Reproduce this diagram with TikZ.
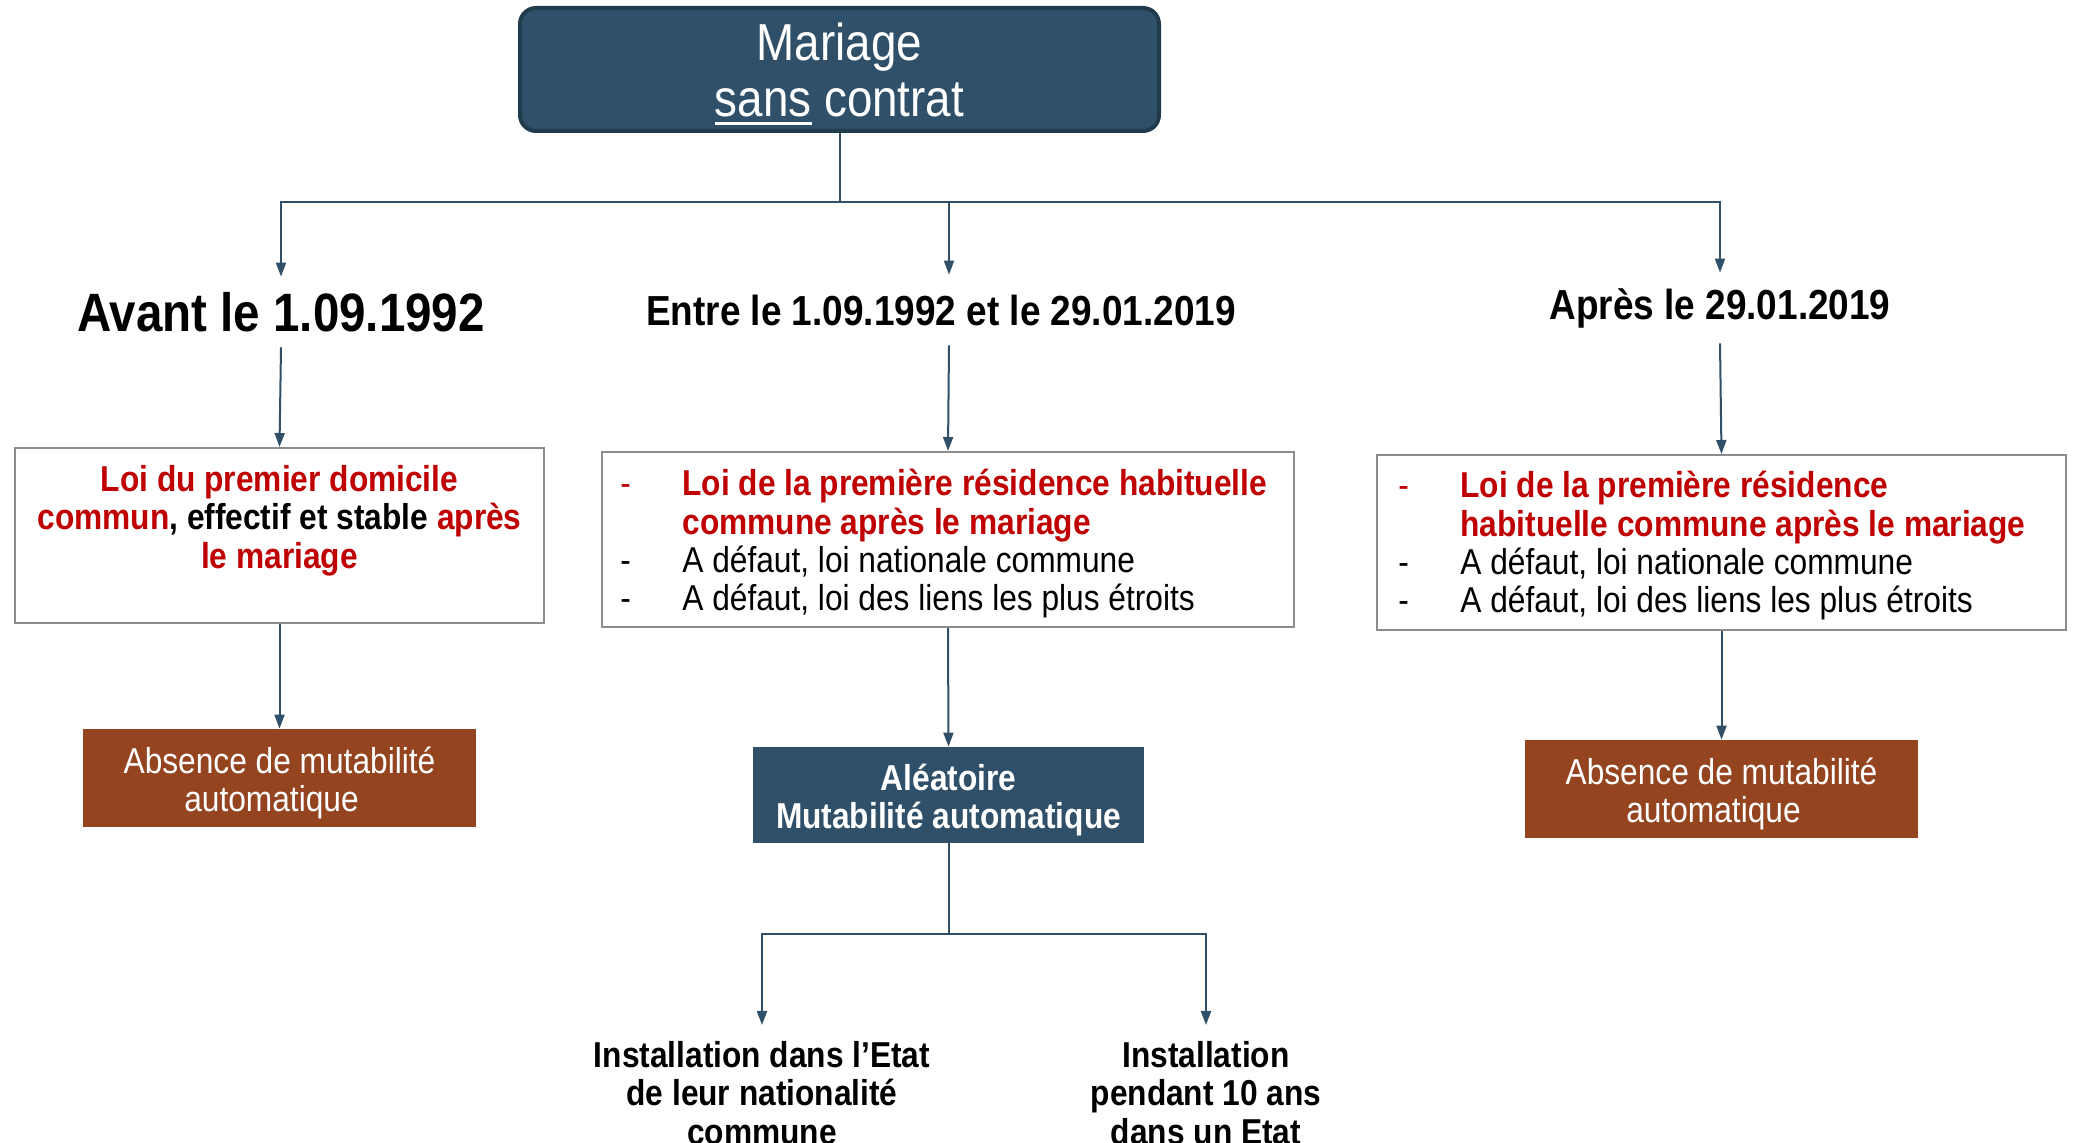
\documentclass[tikz,border=0pt]{standalone}
\usepackage{fontspec}
\setmainfont{Liberation Sans}[FakeStretch=0.88]
\usetikzlibrary{arrows.meta,calc}

\definecolor{slate}{HTML}{2F5068}
\definecolor{slatedark}{HTML}{203A4E}
\definecolor{rust}{HTML}{954420}
\definecolor{lawred}{HTML}{C00000}
\definecolor{boxgray}{HTML}{8C8C8C}

% underline drawn as a rule of chosen depth and thickness
\newcommand{\titleul}[1]{\setbox0\hbox{#1}\rlap{\rule[-4pt]{\wd0}{1.3pt}}\box0\relax}
% list dash followed by a fixed indent
\newcommand{\lawdash}{\makebox[31pt][l]{\mdseries -}}
\newcommand{\lawindent}{\hspace*{31pt}}
% invisible strut that raises the height of a first line
\newcommand{\boxstrut}[1]{\rule{0pt}{#1}}

\begin{document}
\begin{tikzpicture}[x=0.5pt,y=-0.5pt,
  conn/.style={draw=slate,line width=1pt},
  arr/.style={conn,-{Triangle[width=5pt,length=7pt]}},
  title/.style={draw=slatedark,line width=2pt,fill=slate,rounded corners=8pt,text=white,
    minimum width=319.5pt,minimum height=61.5pt,align=center,inner sep=0pt,
    font=\fontsize{26}{28.4}\selectfont},
  period/.style={inner sep=0pt,minimum height=35pt,font=\bfseries\fontsize{21}{24}\selectfont},
  lawbox/.style={draw=boxgray,line width=1pt,fill=white,minimum height=87.5pt,inner sep=0pt},
  lawtext/.style={inner sep=0pt,font=\bfseries\fontsize{18}{19.2}\selectfont},
  rustbox/.style={fill=rust,text=white,minimum width=196.5pt,minimum height=49pt,align=center,
    inner sep=0pt,font=\fontsize{18}{19.2}\selectfont},
  slatebox/.style={fill=slate,text=white,minimum width=195.5pt,minimum height=48pt,align=center,
    inner sep=0pt,font=\bfseries\fontsize{18}{19.2}\selectfont},
  outcome/.style={inner xsep=4pt,inner ysep=8pt,align=center,font=\bfseries\fontsize{18}{19.2}\selectfont}
]
\useasboundingbox (0,0) rectangle (2074,1143);

% root
\node[title] (root) at (839.5,69.5) {\boxstrut{23pt}Mariage\\\titleul{sans} contrat};
\coordinate (split) at (839.5,202);

% periods
\node[period,font=\bfseries\fontsize{27}{30}\selectfont] (pA) at (281,312) {Avant le 1.09.1992};
\node[period] (pB) at (949,310) {\hspace*{-8pt}Entre le 1.09.1992 et le 29.01.2019};
\node[period] (pC) at (1720,308) {Après le 29.01.2019};

% applicable law boxes
\node[lawbox,minimum width=264.5pt] (b1) at (279.5,535.5) {};
\node[lawbox,minimum width=346pt] (b2) at (948,539.5) {};
\node[lawbox,minimum width=344.5pt] (b3) at (1721.5,542.5) {};

\node[lawtext,align=center,anchor=north] (t1) at (279.5,465)
  {\textcolor{lawred}{Loi du premier domicile}\\
   \textcolor{lawred}{commun}, effectif et stable \textcolor{lawred}{après}\\
   \textcolor{lawred}{le mariage}};
\node[lawtext,align=left,anchor=north west] (t2) at (620,469)
  {\textcolor{lawred}{\lawdash Loi de la première résidence habituelle}\\
   \textcolor{lawred}{\lawindent commune après le mariage}\\
   \mdseries\lawdash A défaut, loi nationale commune\\
   \mdseries\lawdash A défaut, loi des liens les plus étroits};
\node[lawtext,align=left,anchor=north west] (t3) at (1398,471)
  {\textcolor{lawred}{\lawdash Loi de la première résidence}\\
   \textcolor{lawred}{\lawindent habituelle commune après le mariage}\\
   \mdseries\lawdash A défaut, loi nationale commune\\
   \mdseries\lawdash A défaut, loi des liens les plus étroits};

% consequences
\node[rustbox] (r1) at (279.5,778) {\boxstrut{18pt}Absence de mutabilité\\automatique\hspace*{8pt}};
\node[slatebox] (s2) at (948.5,795) {\boxstrut{18pt}Aléatoire\\Mutabilité automatique};
\node[rustbox] (r3) at (1721.5,789) {\boxstrut{18pt}Absence de mutabilité\\automatique\hspace*{8pt}};

% cases of automatic mutability
\coordinate (split2) at (948.5,934);
\node[outcome,anchor=north] (o1) at (762,1025) {Installation dans l’Etat\\de leur nationalité\\commune};
\node[outcome,anchor=north] (o2) at (1206,1025) {Installation\\pendant 10 ans\\dans un Etat};

% connectors
\draw[conn] (root.south) -- (split);
\draw[arr] (split) -| (pA.north);
\draw[arr] (split) -| (pB.north);
\draw[arr] (split) -| (pC.north);
\draw[arr] (pA.south) -- (b1.north);
\draw[arr] (pB.south) -- (b2.north);
\draw[arr] (pC.south) -- (b3.north);
\draw[arr] (b1.south) -- (r1.north);
\draw[arr] (b2.south) -- (s2.north);
\draw[arr] (b3.south) -- (r3.north);
\draw[conn] (s2.south) -- (split2);
\draw[arr] (split2) -| (o1.north);
\draw[arr] (split2) -| (o2.north);
\end{tikzpicture}
\end{document}
